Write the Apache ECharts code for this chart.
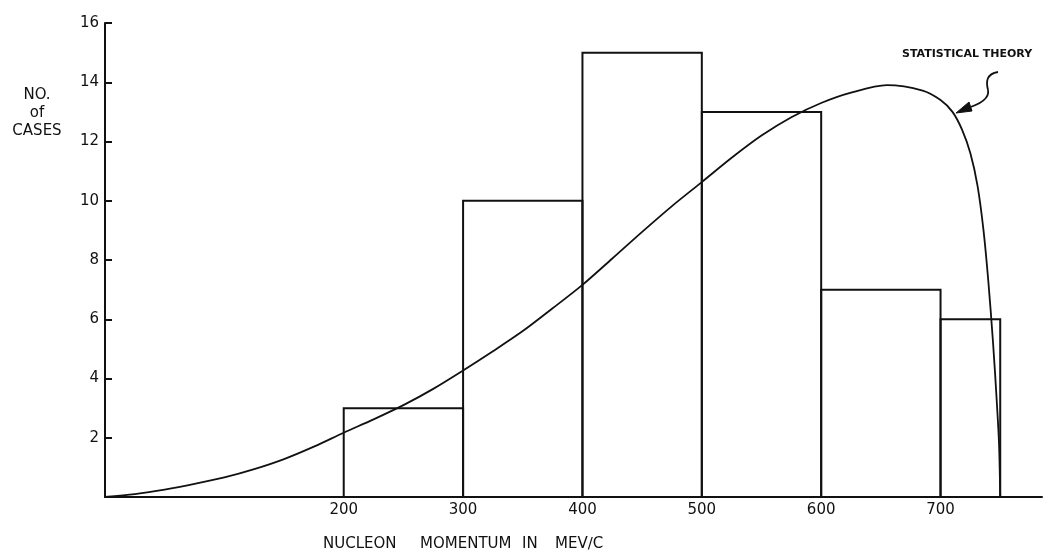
<!DOCTYPE html>
<html>
<head>
<meta charset="utf-8">
<script src="https://cdn.jsdelivr.net/npm/echarts@6/dist/echarts.min.js"></script>
<style>html,body{margin:0;padding:0;background:#fff}#c{width:1047px;height:552px}</style>
</head>
<body>
<div id="c"></div>
<script>
// Histogram bins (MeV/c) and counts
var binStarts = [200, 300, 400, 500, 600, 700];
var binEnds   = [300, 400, 500, 600, 700, 750];
var counts    = [3, 10, 15, 13, 7, 6];
// Statistical theory curve
var theoryX = [0, 25, 50, 75, 100, 125, 150, 175, 200, 225, 250, 275, 300, 325, 350, 375, 400, 425, 450, 475, 500, 525, 550, 575, 600, 625, 655, 685, 700, 710, 718, 725, 731, 736, 740, 744, 747, 749, 750];
var theoryY = [0, 0.1, 0.25, 0.44, 0.66, 0.94, 1.28, 1.7, 2.17, 2.62, 3.1, 3.65, 4.27, 4.92, 5.6, 6.37, 7.16, 8.05, 8.95, 9.82, 10.63, 11.45, 12.2, 12.82, 13.3, 13.65, 13.9, 13.72, 13.4, 13.0, 12.4, 11.6, 10.5, 9.0, 7.3, 5.2, 3.3, 1.8, 0];
// Tick labels
var xTickLabels = [200, 300, 400, 500, 600, 700];
var yTickLabels = [2, 4, 6, 8, 10, 12, 14, 16];

var font = '"DejaVu Sans", "Liberation Sans", sans-serif';
var chart = echarts.init(document.getElementById('c'), null, {renderer: 'canvas'});

var histData = binStarts.map(function (s, i) { return [s, binEnds[i], counts[i]]; });
var curveData = theoryX.map(function (x, i) { return [x, theoryY[i]]; });

chart.setOption({
  animation: false,
  backgroundColor: '#fff',
  grid: {left: 105, right: 5, top: 23, bottom: 55, containLabel: false},
  xAxis: {
    type: 'value', min: 0, max: 785, interval: 100,
    axisLine: {show: true, lineStyle: {color: '#111', width: 2}},
    axisTick: {show: false},
    splitLine: {show: false},
    axisLabel: {
      color: '#111', fontSize: 15, fontFamily: font, margin: 6,
      formatter: function (v) { return xTickLabels.indexOf(v) >= 0 ? String(v) : ''; }
    }
  },
  yAxis: {
    type: 'value', min: 0, max: 16, interval: 2,
    axisLine: {show: true, lineStyle: {color: '#111', width: 2}},
    axisTick: {show: true, inside: true, length: 7, lineStyle: {color: '#111', width: 2}},
    splitLine: {show: false},
    axisLabel: {
      color: '#111', fontSize: 15, fontFamily: font, margin: 6,
      formatter: function (v) { return yTickLabels.indexOf(v) >= 0 ? String(v) : ''; }
    }
  },
  series: [
    {
      type: 'custom',
      data: histData,
      encode: {x: [0, 1], y: 2},
      renderItem: function (params, api) {
        var p0 = api.coord([api.value(0), api.value(2)]);
        var p1 = api.coord([api.value(1), 0]);
        return {
          type: 'rect',
          shape: {x: p0[0], y: p0[1], width: p1[0] - p0[0], height: p1[1] - p0[1]},
          style: {fill: 'none', stroke: '#111', lineWidth: 2}
        };
      },
      z: 2
    },
    {
      type: 'line',
      data: curveData,
      smooth: 0.3,
      showSymbol: false,
      lineStyle: {color: '#111', width: 1.8},
      z: 3
    }
  ],
  graphic: [
    {type: 'text', x: 37, y: 86, style: {text: 'NO.\nof\nCASES', fill: '#111', font: '15px ' + font, lineHeight: 18, textAlign: 'center'}},
    {type: 'text', x: 323, y: 544, style: {text: 'NUCLEON', fill: '#111', font: '15px ' + font, textVerticalAlign: 'middle'}},
    {type: 'text', x: 420, y: 544, style: {text: 'MOMENTUM', fill: '#111', font: '15px ' + font, textVerticalAlign: 'middle'}},
    {type: 'text', x: 522, y: 544, style: {text: 'IN', fill: '#111', font: '15px ' + font, textVerticalAlign: 'middle'}},
    {type: 'text', x: 555, y: 544, style: {text: 'MEV\u2215C', fill: '#111', font: '15px ' + font, textVerticalAlign: 'middle'}},
    {type: 'text', x: 902, y: 49, style: {text: 'STATISTICAL THEORY', fill: '#111', font: 'bold 11px ' + font}},
    {type: 'bezierCurve', shape: {x1: 998, y1: 72, cpx1: 986, cpy1: 74, cpx2: 986, cpy2: 82, x2: 988, y2: 90}, style: {fill: 'none', stroke: '#111', lineWidth: 1.8}},
    {type: 'bezierCurve', shape: {x1: 988, y1: 90, cpx1: 990, cpy1: 100, cpx2: 975, cpy2: 106, x2: 964, y2: 109}, style: {fill: 'none', stroke: '#111', lineWidth: 1.8}},
    {type: 'polygon', shape: {points: [[956, 113], [969, 102], [972, 111]]}, style: {fill: '#111', stroke: '#111', lineWidth: 1}}
  ]
});
</script>
</body>
</html>
